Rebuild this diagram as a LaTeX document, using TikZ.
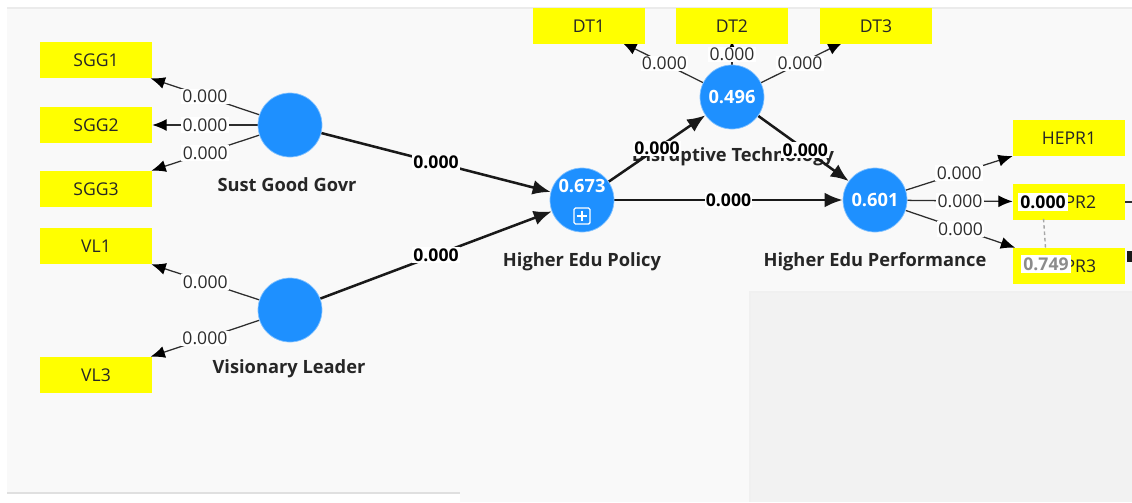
\documentclass[tikz,border=0pt]{standalone}
\usepackage{fontspec}
\setmainfont{Open Sans}
\usetikzlibrary{arrows.meta}
\pgfdeclarelayer{background}
\pgfsetlayers{background,main}

\definecolor{plsyellow}{RGB}{255,255,0}
\definecolor{plsblue}{RGB}{30,144,255}
\definecolor{canvas}{RGB}{249,249,249}
\definecolor{panel}{RGB}{242,242,242}
\definecolor{inkgrey}{RGB}{45,45,45}

\tikzset{
  mv/.style={fill=plsyellow, minimum width=2.8cm, minimum height=0.9cm, inner sep=0pt,
    font=\fontsize{12.5}{15}\selectfont, text=black!85},
  lv/.style={circle, fill=plsblue, draw=plsblue!55, line width=0.5pt, minimum size=1.6cm,
    inner sep=0pt, text=white, font=\bfseries\fontsize{13}{15}\selectfont},
  lvname/.style={font=\bfseries\fontsize{13}{15}\selectfont, text=black!85},
  loading/.style={draw=inkgrey, line width=0.9pt, -{Latex[length=0.36cm,width=0.3cm,color=black]}},
  pathline/.style={draw=black!90, line width=1.8pt, -{Latex[length=0.45cm,width=0.37cm]}},
  coef/.style={fill=white, inner sep=1pt, font=\fontsize{12.5}{15}\selectfont, text=inkgrey},
  pcoef/.style={coef, font=\bfseries\fontsize{12.5}{15}\selectfont, text=black},
  overlay/.style={fill=white, inner sep=1.5pt, font=\bfseries\fontsize{12.5}{15}\selectfont},
}

\begin{document}
\begin{tikzpicture}[x=0.025cm, y=-0.025cm]
  \useasboundingbox (0,0) rectangle (1132,502);

  % constructs
  \node[lv] (sgg) at (290,125) {};
  \node[lv] (vl)  at (290,310) {};
  \node[lv] (hep) at (582,200) {};
  \node[lv] (dt)  at (732,97)  {0.496};
  \node[lv] (hpf) at (875,200) {0.601};
  \node[text=white, font=\bfseries\fontsize{13}{15}\selectfont] (hepval) at (582,186) {0.673};
  \node[draw=white, line width=0.9pt, minimum size=0.4cm, inner sep=0pt, rounded corners=1pt] (hepplus) at (582,216) {};
  \draw[white, line width=0.9pt, shorten <=0.08cm, shorten >=0.08cm] (hepplus.north) -- (hepplus.south);
  \draw[white, line width=0.9pt, shorten <=0.08cm, shorten >=0.08cm] (hepplus.west) -- (hepplus.east);

  % indicators
  \node[mv] (sgg1)  at (96,60)    {SGG1};
  \node[mv] (sgg2)  at (96,125)   {SGG2};
  \node[mv] (sgg3)  at (96,189)   {SGG3};
  \node[mv] (vl1)   at (96,246)   {VL1};
  \node[mv] (vl3)   at (96,375)   {VL3};
  \node[mv] (dt1)   at (589,26)   {DT1};
  \node[mv] (dt2)   at (732,26)   {DT2};
  \node[mv] (dt3)   at (876,26)   {DT3};
  \node[mv] (hepr1) at (1069,138) {HEPR1};
  \node[mv] (hepr2) at (1069,202) {HEPR2};
  \node[mv] (hepr3) at (1069,266) {HEPR3};

  \node[overlay, text=black] (hepr2val) at (1043,202) {0.000};
  \node[overlay, text=black!45] (hepr3val) at (1046,264) {0.749};
  \draw[black!35, line width=1pt, dash pattern=on 2.5pt off 2pt, shorten <=0.2cm, shorten >=0.15cm]
    (hepr2val.south) -- (hepr3val.north);
  \fill[black!90] (1127,251) rectangle (1132,262);

  \begin{pgfonlayer}{background}
    \fill[white] (0,0) rectangle (1132,502);
    \fill[canvas] (7,8) rectangle (1132,502);
    \fill[white] (7,494) rectangle (460,502);
    \draw[black!12, line width=1pt] (7,493) -- (460,493);
    \draw[black!8, line width=0.8pt] (7,8) -- (1132,8);
    \fill[panel] (750,292) rectangle (1132,502);
    \draw[black!6, line width=1pt] (750,502) -- (750,292) -- (1132,292);

    \node[lvname] (sggname) at (287,185) {Sust Good Govr};
    \node[lvname] (vlname)  at (289,369) {Visionary Leader};
    \node[lvname] (hepname) at (582,262) {Higher Edu Policy};
    \node[lvname] (dtname)  at (733,157) {Disruptive Technology};
    \node[lvname] (hpfname) at (875,262) {Higher Edu Performance};

    \foreach \i in {1,2,3}
      \draw[loading] (sgg) -- node[coef] {0.000} (sgg\i);
    \foreach \i in {1,3}
      \draw[loading] (vl) -- node[coef] {0.000} (vl\i);
    \foreach \i in {1,2,3}
      \draw[loading, shorten >=-0.1cm] (dt) -- node[coef] {0.000} (dt\i);
    \foreach \i in {1,2,3}
      \draw[loading] (hpf) -- node[coef] {0.000} (hepr\i);

    \draw[pathline] (sgg) -- node[pcoef] {0.000} (hep);
    \draw[pathline] (vl)  -- node[pcoef] {0.000} (hep);
    \draw[pathline] (hep) -- node[pcoef, pos=0.5] {0.000} (dt);
    \draw[pathline] (dt)  -- node[pcoef, pos=0.52] {0.000} (hpf);
    \draw[pathline] (hep) -- node[pcoef] {0.000} (hpf);

    \coordinate (offright) at (1132,202);
    \draw[inkgrey, line width=0.9pt] (hepr2.east) -- (offright);
  \end{pgfonlayer}
\end{tikzpicture}
\end{document}
